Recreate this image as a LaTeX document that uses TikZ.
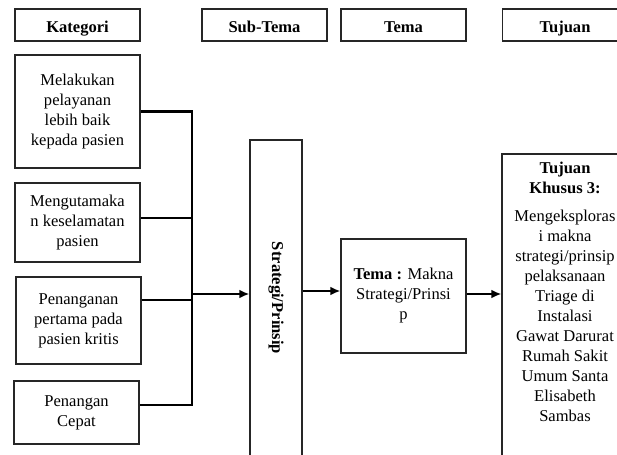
\documentclass[tikz,border=0pt]{standalone}
\usepackage{fontspec}
\setmainfont{Liberation Serif}
\usetikzlibrary{arrows.meta,positioning,calc}

\begin{document}
\begin{tikzpicture}[x=0.75pt,y=-0.75pt]
  \tikzstyle{headbox}=[rectangle,draw=black!85,line width=0.8pt,
  minimum width=93.75pt,minimum height=24pt,inner sep=0pt,
  text height=11pt,text depth=0pt,
  font=\fontsize{12.4}{15}\selectfont\bfseries]
  \tikzstyle{katbox}=[rectangle,draw=black!85,line width=0.8pt,
  minimum width=93.75pt,inner sep=0pt,align=center,
  font=\fontsize{12.4}{15}\selectfont]
  \tikzstyle{link}=[line width=1.6pt]
  \tikzstyle{arr}=[line width=1.6pt,-{Latex[length=7.5pt,width=6.5pt]}]
  \useasboundingbox (0,0) rectangle (617,454);
  \clip (0,0) rectangle (617,454);
  % kolom judul
  \node[headbox] (hkat) at (77.5,25)  {Kategori};
  \node[headbox] (hsub) at (264.5,25) {Sub-Tema};
  \node[headbox] (htema) at (403.5,25) {Tema};
  \node[headbox] (htuj) at (565,25)   {Tujuan};
  % kategori
  \node[katbox,minimum height=84.75pt] (kat1) at (77.5,111.5)
  {Melakukan\\pelayanan\\lebih baik\\kepada pasien};
  \node[katbox,minimum height=59.25pt] (kat2) at (77.5,222.5)
  {Mengutamaka\\n keselamatan\\pasien};
  \node[katbox,minimum height=65.25pt] (kat3) at (78.5,320.5)
  {Penanganan\\pertama pada\\pasien kritis};
  \node[katbox,minimum height=47.25pt] (kat4) at (76.5,412.5)
  {Penangan\\Cepat};
  % sub-tema, tema, tujuan
  \node[katbox,minimum width=39pt,minimum height=237pt] (strat) at (276,298) {};
  \node[rotate=-90,font=\fontsize{12.4}{15}\selectfont\bfseries] (strattxt)
  at (strat.center) {Strategi/Prinsip};
  \node[katbox,minimum height=85.5pt] (tema) at (403.5,296)
  {\textbf{Tema :} Makna\\Strategi/Prinsi\\p};
  \node[katbox,minimum width=94.5pt,minimum height=229.5pt] (tujuan) at (565,307) {};
  \node[align=center,inner sep=0pt,anchor=north,
  font=\fontsize{12.4}{15}\selectfont] (tujuantxt) at (565,162)
  {\textbf{Tujuan}\\\textbf{Khusus 3:}\\[6pt]Mengeksploras\\i makna\\
    strategi/prinsip\\pelaksanaan\\Triage di\\Instalasi\\Gawat Darurat\\
    Rumah Sakit\\Umum Santa\\Elisabeth\\Sambas};
  % penghubung
  \coordinate (bus) at (192,294);
  \draw[link] (kat1.east) -- (kat1.east -| bus)
  -- ($(kat4.east -| bus)+(0,-7.5)$) -- ($(kat4.east)+(0,-7.5)$);
  \draw[link] ($(kat2.east)+(0,-4.5)$) -- ($(kat2.east -| bus)+(0,-4.5)$);
  \draw[link] ($(kat3.east)+(0,-20.5)$) -- ($(kat3.east -| bus)+(0,-20.5)$);
  \draw[arr] (bus) -- (bus -| strat.west);
  \draw[arr] ($(strat.east |- tema.west)+(0,-5)$) -- ($(tema.west)+(0,-5)$);
  \draw[arr] ($(tema.east)+(0,-2)$) -- ($(tema.east -| tujuan.west)+(0,-2)$);
\end{tikzpicture}
\end{document}
